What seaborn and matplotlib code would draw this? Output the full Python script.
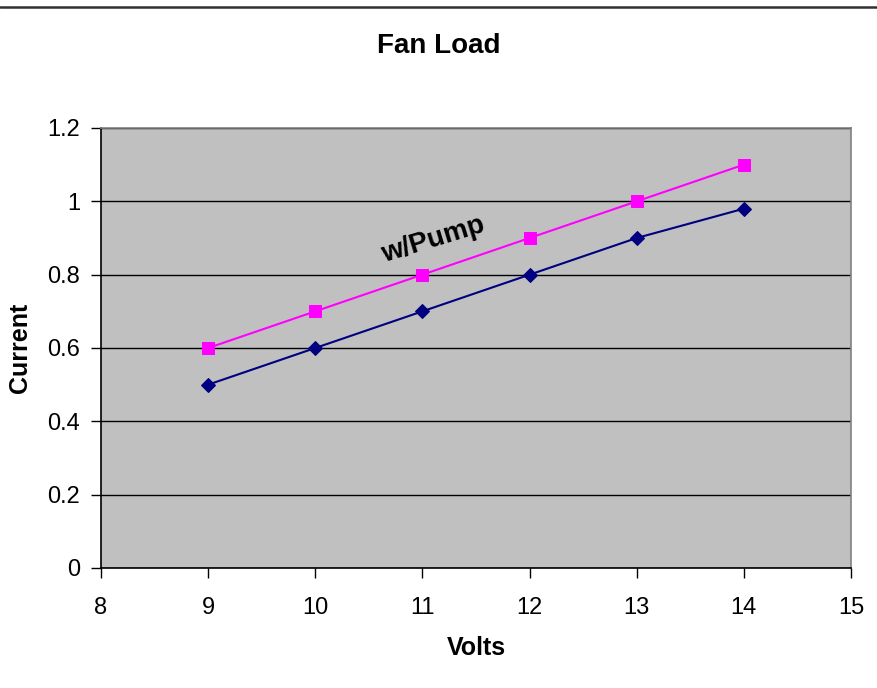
import pandas as pd
import matplotlib.pyplot as plt
import seaborn as sns

# --- DATA ---
volts = [9, 10, 11, 12, 13, 14]
current_fan = [0.5, 0.6, 0.7, 0.8, 0.9, 0.98]
current_pump = [0.6, 0.7, 0.8, 0.9, 1.0, 1.1]
x_ticks = [8, 9, 10, 11, 12, 13, 14, 15]
y_ticks = [0, 0.2, 0.4, 0.6, 0.8, 1, 1.2]
y_tick_labels = ["0", "0.2", "0.4", "0.6", "0.8", "1", "1.2"]

df = pd.DataFrame({"Volts": volts, "fan": current_fan, "pump": current_pump})

sns.set_theme(style="white")
plt.rcParams['font.family'] = ['Liberation Sans', 'DejaVu Sans']
plt.rcParams['text.color'] = 'black'
plt.rcParams['axes.labelcolor'] = 'black'
plt.rcParams['xtick.color'] = 'black'
plt.rcParams['ytick.color'] = 'black'

fig = plt.figure(figsize=(8.78, 6.88), dpi=100)
ax = fig.add_axes([101 / 878, 1 - 568 / 688, 750 / 878, 440 / 688])
ax.set_facecolor("#C0C0C0")

sns.lineplot(data=df, x="Volts", y="pump", ax=ax, color="#FF00FF", marker="s",
             markersize=8.5, markeredgecolor="#FF00FF", linewidth=1.5, zorder=3)
sns.lineplot(data=df, x="Volts", y="fan", ax=ax, color="#000080", marker="D",
             markersize=7.5, markeredgecolor="#000080", linewidth=1.5, zorder=3)

ax.set_xlim(8, 15)
ax.set_ylim(0, 1.2)
ax.set_xticks(x_ticks)
ax.set_yticks(y_ticks)
ax.set_yticklabels(y_tick_labels)
ax.yaxis.grid(True, color="black", linewidth=1)
ax.set_axisbelow(True)

ax.tick_params(axis="both", direction="out", length=7, width=1, color="black",
               labelsize=17, bottom=True, left=True)
ax.tick_params(axis="x", pad=14)
ax.tick_params(axis="y", pad=8)
for side in ["top", "right"]:
    ax.spines[side].set_color("#808080")
    ax.spines[side].set_linewidth(1.2)
for side in ["left", "bottom"]:
    ax.spines[side].set_color("black")
    ax.spines[side].set_linewidth(1.2)

ax.set_xlabel("Volts", fontsize=18, fontweight="bold", va="center")
ax.set_ylabel("Current", fontsize=18, fontweight="bold", va="center")
ax.xaxis.set_label_coords(0.5, (568 - 648) / 440)
ax.yaxis.set_label_coords((20 - 101) / 750, 0.5)
fig.text(0.5, 1 - 46 / 688, "Fan Load", ha="center", va="center",
         fontsize=20, fontweight="bold")

ax.text(11.1, 0.895, "w/Pump", rotation=17, ha="center", va="center",
        fontsize=20, fontweight="bold", color="black")

# separator line at the top of the figure
fig.add_artist(plt.Line2D([0, 1], [1 - 7 / 688, 1 - 7 / 688], color="#303030",
                          linewidth=1.8, transform=fig.transFigure))

fig.savefig("out.png", dpi=100)
